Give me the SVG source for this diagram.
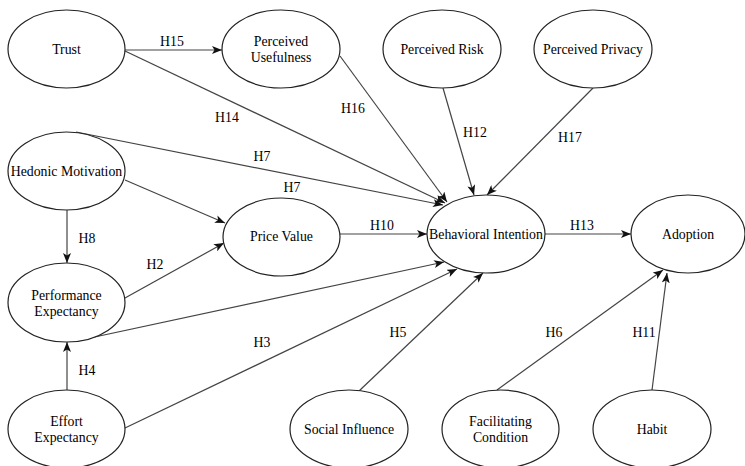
<svg xmlns="http://www.w3.org/2000/svg" width="745" height="466" viewBox="0 0 745 466">
<style>
.n ellipse{fill:#fff;stroke:#222;stroke-width:1.2}
.n text,.lbl{font-family:"Liberation Serif","Times New Roman","DejaVu Serif",serif;font-size:13.8px;fill:#000;text-anchor:middle;dominant-baseline:central}
.e line{stroke:#444;stroke-width:1.2;marker-end:url(#ah)}
</style>
<defs>
<marker id="ah" markerUnits="userSpaceOnUse" markerWidth="10" markerHeight="8" refX="10" refY="4" orient="auto">
<path d="M0,0 L10,4 L0,8 L2.5,4 z" fill="#111"/>
</marker>
</defs>
<rect width="745" height="466" fill="#fff"/>
<g id="connectors" class="e">
<line x1="125" y1="50" x2="222" y2="50"/>
<line x1="125" y1="51" x2="445" y2="203"/>
<line x1="340" y1="56" x2="447" y2="202"/>
<line x1="443" y1="88" x2="474" y2="195"/>
<line x1="593" y1="88" x2="487" y2="195"/>
<line x1="76" y1="132" x2="443" y2="205"/>
<line x1="125" y1="180" x2="225" y2="223"/>
<line x1="67" y1="210" x2="67" y2="263"/>
<line x1="125" y1="298" x2="224" y2="243"/>
<line x1="76" y1="341" x2="444" y2="262"/>
<line x1="67" y1="390" x2="67" y2="342"/>
<line x1="125" y1="428" x2="457" y2="269"/>
<line x1="359" y1="391" x2="483" y2="273"/>
<line x1="340" y1="234" x2="427" y2="234"/>
<line x1="545" y1="234" x2="631" y2="234"/>
<line x1="497" y1="390" x2="663" y2="270"/>
<line x1="652" y1="390" x2="667" y2="273"/>
</g>
<g id="labels">
<text class="lbl" x="172" y="41">H15</text>
<text class="lbl" x="227" y="117">H14</text>
<text class="lbl" x="353" y="108">H16</text>
<text class="lbl" x="475" y="132">H12</text>
<text class="lbl" x="570" y="137">H17</text>
<text class="lbl" x="262" y="156">H7</text>
<text class="lbl" x="292" y="187">H7</text>
<text class="lbl" x="87" y="238">H8</text>
<text class="lbl" x="155" y="264">H2</text>
<text class="lbl" x="382" y="225">H10</text>
<text class="lbl" x="582" y="225">H13</text>
<text class="lbl" x="262" y="342">H3</text>
<text class="lbl" x="87" y="370">H4</text>
<text class="lbl" x="398" y="332">H5</text>
<text class="lbl" x="554" y="332">H6</text>
<text class="lbl" x="644" y="332">H11</text>
</g>
<g id="trust" class="n"><ellipse cx="66.5" cy="49" rx="58.5" ry="39"/><text x="66.5" y="49">Trust</text></g>
<g id="perceived-usefulness" class="n"><ellipse cx="281" cy="49" rx="59" ry="39"/><text x="281" y="41">Perceived</text><text x="281" y="57">Usefulness</text></g>
<g id="perceived-risk" class="n"><ellipse cx="442" cy="49" rx="59" ry="39"/><text x="442" y="49">Perceived Risk</text></g>
<g id="perceived-privacy" class="n"><ellipse cx="593" cy="49" rx="59" ry="39"/><text x="593" y="49">Perceived Privacy</text></g>
<g id="hedonic-motivation" class="n"><ellipse cx="66.5" cy="171" rx="58.5" ry="39"/><text x="66.5" y="171">Hedonic Motivation</text></g>
<g id="performance-expectancy" class="n"><ellipse cx="66.5" cy="302.5" rx="58.5" ry="39.5"/><text x="66.5" y="295">Performance</text><text x="66.5" y="311">Expectancy</text></g>
<g id="effort-expectancy" class="n"><ellipse cx="66.5" cy="429" rx="58.5" ry="39"/><text x="66.5" y="421">Effort</text><text x="66.5" y="437">Expectancy</text></g>
<g id="price-value" class="n"><ellipse cx="281.5" cy="237" rx="58.5" ry="39"/><text x="281.5" y="236">Price Value</text></g>
<g id="behavioral-intention" class="n"><ellipse cx="486" cy="234" rx="59" ry="39"/><text x="486" y="234">Behavioral Intention</text></g>
<g id="adoption" class="n"><ellipse cx="688" cy="234" rx="57" ry="39"/><text x="688" y="234">Adoption</text></g>
<g id="social-influence" class="n"><ellipse cx="349" cy="429" rx="59" ry="39"/><text x="349" y="429">Social Influence</text></g>
<g id="facilitating-condition" class="n"><ellipse cx="500.5" cy="429" rx="58.5" ry="39"/><text x="500.5" y="421">Facilitating</text><text x="500.5" y="437">Condition</text></g>
<g id="habit" class="n"><ellipse cx="652" cy="429" rx="59" ry="39"/><text x="652" y="429">Habit</text></g>
</svg>
